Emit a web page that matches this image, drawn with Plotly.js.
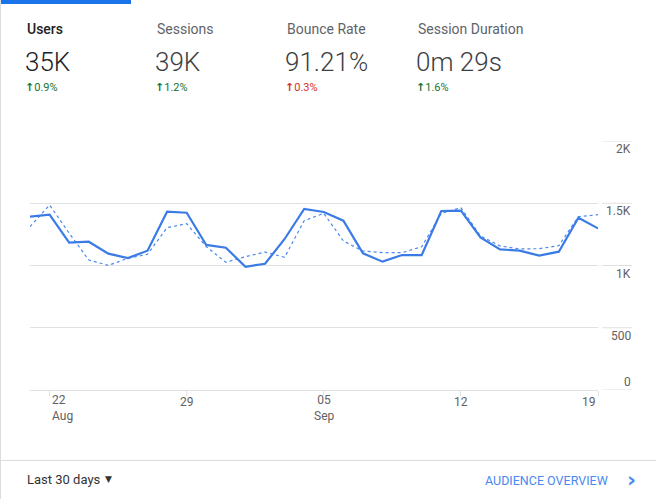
<!DOCTYPE html>
<html>
<head>
<meta charset="utf-8">
<script src="https://cdn.plot.ly/plotly-3.0.1.min.js"></script>
<style>
  html, body { margin: 0; padding: 0; background: #fff; }
  #chart { width: 656px; height: 499px; }
</style>
</head>
<body>
<div id="chart"></div>
<script>
// ---- data ----
const dates = ["2019-08-21","2019-08-22","2019-08-23","2019-08-24","2019-08-25","2019-08-26","2019-08-27","2019-08-28","2019-08-29","2019-08-30",
               "2019-08-31","2019-09-01","2019-09-02","2019-09-03","2019-09-04","2019-09-05","2019-09-06","2019-09-07","2019-09-08","2019-09-09",
               "2019-09-10","2019-09-11","2019-09-12","2019-09-13","2019-09-14","2019-09-15","2019-09-16","2019-09-17","2019-09-18","2019-09-19"];
const users = [1392,1408,1183,1191,1095,1060,1119,1432,1424,1165,1143,990,1014,1213,1454,1430,1360,1098,1031,1084,1084,1438,1440,1226,1130,1119,1079,1111,1384,1298];
const usersPrevious = [1312,1486,1260,1044,1001,1058,1090,1304,1336,1151,1026,1071,1108,1066,1360,1419,1197,1116,1103,1103,1151,1419,1464,1237,1157,1133,1135,1159,1392,1408];
const xTickDates = ["2019-08-22","2019-08-29","2019-09-05","2019-09-12","2019-09-19"];
const xTickDay = ["22","29","05","12","19"];
const xTickMonth = ["Aug","","Sep","",""];
const yTickVals = [0,500,1000,1500,2000];
const yTickText = ["0","500","1K","1.5K","2K"];
const metricNames = ["Users","Sessions","Bounce Rate","Session Duration"];
const metricValues = ["35K","39K","91.21%","0m 29s"];
const metricChanges = ["0.9%","1.2%","0.3%","1.6%"];
const metricGood = [true,true,false,true];

// ---- layout helpers (pixel -> paper) ----
const L = 30, R = 598, T = 141, B = 390;
const W = 656, H = 499;
const px = x => (x - L) / (R - L);
const py = y => (B - y) / (B - T);

const FONT = "Roboto, 'Noto Sans', Arial, sans-serif";
const annotations = [];
const shapes = [];

// header
const colX = [25, 155, 285, 416];
metricNames.forEach((name, i) => {
  annotations.push({xref:'paper', yref:'paper', x:px(colX[i]), y:py(29), xanchor:'left', yanchor:'middle',
    text:name, showarrow:false, font:{family:FONT, size:14, color: i===0 ? '#212121' : '#5f6368', weight: i===0 ? 500 : 400}});
  annotations.push({xref:'paper', yref:'paper', x:px(colX[i]-2), y:py(62), xanchor:'left', yanchor:'middle',
    text:metricValues[i], showarrow:false, font:{family:FONT, size:26, color: i===0 ? '#202124' : '#3c4043', weight:300}});
  const c = metricGood[i] ? '#137333' : '#d93025';
  annotations.push({xref:'paper', yref:'paper', x:px(colX[i]-2), y:py(87), xanchor:'left', yanchor:'middle',
    text:'<b><span style="font-family:DejaVu Sans;font-size:11px">↑</span></b>' + metricChanges[i], showarrow:false,
    font:{family:FONT, size:11, color:c}});
});

// y tick labels at right
yTickVals.forEach((v, i) => {
  annotations.push({xref:'paper', yref:'y', x:px(633), y:v, xanchor:'right', yanchor:'middle',
    yshift: v === 0 ? 8 : -8, text:yTickText[i], showarrow:false, font:{family:FONT, size:12, color:'#616161'}});
  shapes.push({type:'line', xref:'paper', yref:'y', x0:px(602), x1:px(632), y0:v, y1:v,
    line:{color:'#e0e0e0', width:1}});
});

// x tick labels (day with optional month below)
xTickDates.forEach((d, i) => {
  const anchor = i === 0 ? 'left' : (i === xTickDates.length - 1 ? 'right' : 'center');
  const hasMonth = !!xTickMonth[i];
  annotations.push({xref:'x', yref:'paper', x:d, y:py(hasMonth ? 408 : 401.5), xanchor:anchor, yanchor:'middle',
    align:anchor, text: hasMonth ? xTickDay[i] + '<br>' + xTickMonth[i] : xTickDay[i], showarrow:false,
    font:{family:FONT, size:12, color:'#616161'}});
});

// footer
annotations.push({xref:'paper', yref:'paper', x:px(25), y:py(479), xanchor:'left', yanchor:'middle',
  text:'Last 30 days', showarrow:false, font:{family:FONT, size:13, color:'#333333'}});
annotations.push({xref:'paper', yref:'paper', x:px(103), y:py(479), xanchor:'left', yanchor:'middle',
  text:'▼', showarrow:false, font:{family:'DejaVu Sans', size:9, color:'#333333'}});
annotations.push({xref:'paper', yref:'paper', x:px(610), y:py(480), xanchor:'right', yanchor:'middle',
  text:'AUDIENCE OVERVIEW', showarrow:false, font:{family:FONT, size:12.5, color:'#4a89f0'}});
annotations.push({xref:'paper', yref:'paper', x:px(631), y:py(479), xanchor:'center', yanchor:'middle',
  text:'<b>›</b>', showarrow:false, font:{family:'DejaVu Sans', size:22, color:'#4a89f0'}});

// frame decorations
shapes.push({type:'rect', xref:'paper', yref:'paper', x0:px(0), x1:px(131), y0:py(0), y1:py(4),
  fillcolor:'#1a73e8', line:{width:0}});
shapes.push({type:'line', xref:'paper', yref:'paper', x0:px(0.5), x1:px(0.5), y0:py(0), y1:py(499),
  line:{color:'#dadce0', width:1}});
shapes.push({type:'line', xref:'paper', yref:'paper', x0:px(0), x1:px(656), y0:py(460.5), y1:py(460.5),
  line:{color:'#dadce0', width:1}});

const traces = [
  {x:dates, y:usersPrevious, type:'scatter', mode:'lines', line:{color:'#4a89f0', width:1.2, dash:'3px,3px'}, hoverinfo:'skip'},
  {x:dates, y:users, type:'scatter', mode:'lines', line:{color:'#3a7be6', width:2.2}, hoverinfo:'skip'}
];

const layout = {
  width: W, height: H,
  margin: {l:L, r:W-R, t:T, b:H-B, pad:0},
  paper_bgcolor:'#ffffff', plot_bgcolor:'#ffffff',
  showlegend:false,
  font:{family:FONT},
  xaxis:{type:'date', range:[dates[0], dates[dates.length-1]], showgrid:false, zeroline:false, showline:false,
         ticks:'outside', ticklen:5, tickwidth:1, tickcolor:'#e0e0e0', tickvals:xTickDates, showticklabels:false, fixedrange:true},
  yaxis:{range:[0,2000], tickvals:yTickVals, showgrid:true, gridcolor:'#e0e0e0', gridwidth:1,
         zeroline:true, zerolinecolor:'#e0e0e0', zerolinewidth:1, showline:false,
         showticklabels:false, fixedrange:true},
  annotations: annotations,
  shapes: shapes
};

Plotly.newPlot('chart', traces, layout, {displayModeBar:false, staticPlot:true});
</script>
</body>
</html>
